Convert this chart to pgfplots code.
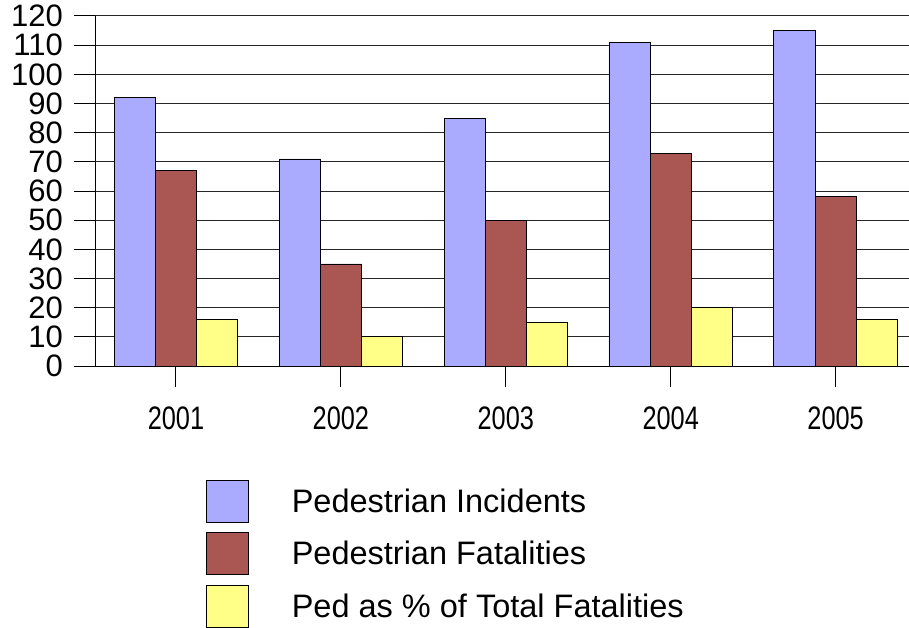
\documentclass[border=0pt]{standalone}
\usepackage{fontspec}
\setmainfont{Liberation Sans}
\newfontfamily\narrowfont[FakeStretch=0.78]{Liberation Sans}
\usepackage{pgfplots}
\pgfplotsset{compat=1.18}
\definecolor{cblue}{RGB}{170,170,255}
\definecolor{cred}{RGB}{170,86,82}
\definecolor{cyellow}{RGB}{255,255,136}
\begin{document}
\begin{tikzpicture}
\begin{axis}[
  at={(95pt,261pt)}, anchor=south west,
  scale only axis, width=814pt, height=350pt,
  xmin=-0.491, xmax=4.445, ymin=0, ymax=120,
  axis lines=left, axis line style={-, black, line width=1pt},
  ybar, bar width=41.2pt,
  xtick={0,1,2,3,4}, xticklabels={2001,2002,2003,2004,2005},
  ytick={0,10,...,120},
  tick align=outside, major tick length=21pt,
  tick style={black, line width=1pt},
  ymajorgrids, grid style={black!85, line width=1pt},
  yticklabel style={font=\fontsize{31}{31}\selectfont, inner sep=0pt, xshift=-11pt},
  xticklabel style={font=\narrowfont\fontsize{32.5}{32.5}\selectfont, inner sep=0pt, yshift=-20pt},
  /pgf/number format/assume math mode=true,
  legend style={at={(0.1363,-0.3257)}, anchor=north west, draw=none, fill=none,
    inner sep=0pt, outer sep=0pt, font=\fontsize{32.5}{32.5}\selectfont,
    cells={anchor=west}, nodes={inner sep=0pt, outer sep=0pt},
    /tikz/column sep=43pt, /tikz/row sep=9.5pt},
  legend cell align=left,
  legend image code/.code={\draw[#1, draw=black, line width=0.8pt] (0pt,-21pt) rectangle (42pt,21pt);},
]
\addplot[fill=cblue, draw=black, line width=0.8pt, bar shift=-41.2pt] coordinates {(0,92) (1,71) (2,85) (3,111) (4,115)};
\addplot[fill=cred, draw=black, line width=0.8pt, bar shift=0pt] coordinates {(0,67) (1,35) (2,50) (3,73) (4,58)};
\addplot[fill=cyellow, draw=black, line width=0.8pt, bar shift=41.2pt] coordinates {(0,16) (1,10) (2,15) (3,20) (4,16)};
\legend{Pedestrian Incidents, Pedestrian Fatalities, Ped as \% of Total Fatalities}
\end{axis}
\pgfresetboundingbox
\useasboundingbox (0,0) rectangle (909pt,627pt);
\end{tikzpicture}
\end{document}
